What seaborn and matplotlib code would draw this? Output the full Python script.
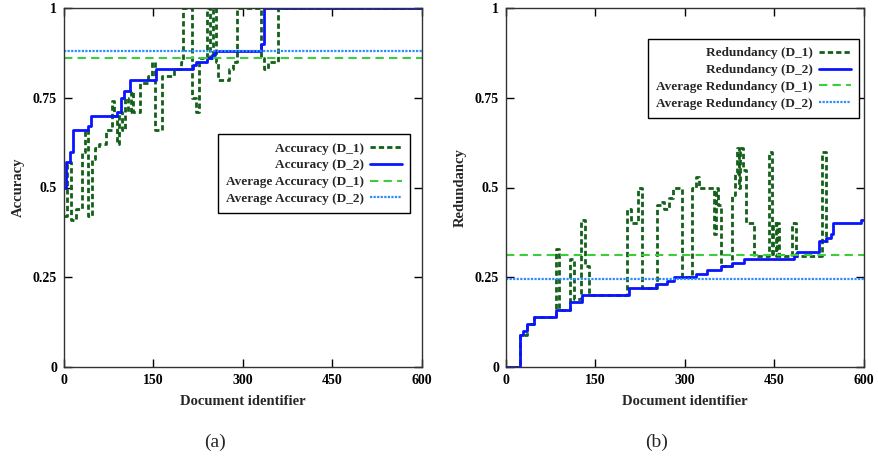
import matplotlib
matplotlib.use("Agg")
import matplotlib.pyplot as plt
import seaborn as sns
import pandas as pd

# ---------------- data ----------------
x_ticks = [0, 150, 300, 450, 600]
y_ticks = [0, 0.25, 0.5, 0.75, 1]
y_tick_labels = ["0", "0.25", "0.5", "0.75", "1"]

acc_d1_doc = [0, 5, 12, 20, 30, 36, 41, 47, 52, 58, 70, 80, 84, 88, 93, 98, 103, 108,
              112, 116, 127, 140, 148, 152, 165, 185, 196, 200, 214, 221, 227, 239, 244,
              250, 254, 258, 276, 284, 290, 330, 336, 342, 359, 600]
acc_d1 = [0.42, 0.57, 0.41, 0.44, 0.60, 0.66, 0.42, 0.58, 0.61, 0.62, 0.66, 0.74, 0.70, 0.62,
          0.71, 0.66, 0.75, 0.71, 0.77, 0.71, 0.79, 0.81, 0.85, 0.66, 0.81, 0.83, 0.85, 1.0,
          0.75, 0.71, 0.86, 1.0, 0.86, 1.0, 0.85, 0.80, 0.83, 0.85, 1.0, 0.86, 0.83, 0.85,
          1.0, 1.0]

acc_d2_doc = [0, 3, 10, 15, 40, 45, 88, 95, 100, 110, 155, 217, 222, 240, 248, 253, 331, 336, 600]
acc_d2 = [0.50, 0.57, 0.60, 0.66, 0.67, 0.70, 0.71, 0.75, 0.77, 0.80, 0.83, 0.84, 0.85, 0.86,
          0.87, 0.88, 0.90, 1.0, 1.0]

acc_avg_d1 = 0.862
acc_avg_d2 = 0.879

red_d1_doc = [0, 24, 35, 47, 83, 89, 108, 114, 126, 133, 139, 203, 209, 217, 222, 228, 253,
              259, 265, 273, 280, 295, 312, 318, 323, 348, 352, 356, 361, 379, 383, 387, 390,
              393, 397, 402, 415, 441, 446, 448, 453, 455, 458, 480, 486, 530, 536, 540]
red_d1 = [0.0, 0.09, 0.12, 0.14, 0.33, 0.16, 0.30, 0.19, 0.41, 0.28, 0.20, 0.44, 0.40, 0.40,
          0.50, 0.22, 0.45, 0.46, 0.44, 0.47, 0.50, 0.25, 0.50, 0.53, 0.50, 0.37, 0.50, 0.45,
          0.28, 0.48, 0.54, 0.61, 0.50, 0.61, 0.55, 0.40, 0.31, 0.60, 0.31, 0.40, 0.31, 0.40,
          0.31, 0.40, 0.31, 0.60, 0.35, 0.35]

red_d2_doc = [0, 24, 28, 35, 47, 83, 108, 128, 206, 251, 270, 281, 318, 337, 360, 379, 399,
              483, 488, 525, 536, 544, 548, 595, 600]
red_d2 = [0.0, 0.089, 0.099, 0.12, 0.14, 0.16, 0.18, 0.20, 0.22, 0.23, 0.24, 0.25, 0.26, 0.27,
          0.28, 0.29, 0.30, 0.31, 0.32, 0.35, 0.36, 0.37, 0.40, 0.41, 0.41]

red_avg_d1 = 0.312
red_avg_d2 = 0.245

# ---------------- style ----------------
sns.set_style("ticks")
plt.rcParams['font.family'] = ['Liberation Serif', 'DejaVu Serif']
plt.rcParams['font.weight'] = 'bold'
plt.rcParams['axes.labelweight'] = 'bold'

C_D1 = "#13601a"
C_D2 = "#0a14ff"
C_AVG1 = "#3ccc3c"
C_AVG2 = "#2a8cff"

fig = plt.figure(figsize=(8.79, 4.63), dpi=100)
ax1 = fig.add_axes([64 / 879, 1 - 367 / 463, 358 / 879, 359 / 463])
ax2 = fig.add_axes([506 / 879, 1 - 367 / 463, 358 / 879, 359 / 463])


def panel(ax, d1x, d1y, d2x, d2y, avg1, avg2, name, legend_loc):
    df1 = pd.DataFrame({"doc": d1x, "val": d1y})
    df2 = pd.DataFrame({"doc": d2x, "val": d2y})
    dfa1 = pd.DataFrame({"doc": [0, 600], "val": [avg1, avg1]})
    dfa2 = pd.DataFrame({"doc": [0, 600], "val": [avg2, avg2]})
    sns.lineplot(data=df1, x="doc", y="val", ax=ax, color=C_D1, lw=2.0,
                 drawstyle="steps-post", estimator=None, sort=False,
                 dashes=False, linestyle=(0, (1.9, 1.1)))
    sns.lineplot(data=df2, x="doc", y="val", ax=ax, color=C_D2, lw=2.0,
                 drawstyle="steps-post", estimator=None, sort=False)
    sns.lineplot(data=dfa1, x="doc", y="val", ax=ax, color=C_AVG1, lw=1.5,
                 estimator=None, sort=False, linestyle=(0, (4.0, 2.5)))
    sns.lineplot(data=dfa2, x="doc", y="val", ax=ax, color=C_AVG2, lw=1.6,
                 estimator=None, sort=False, linestyle=(0, (1.0, 0.6)))
    lines = ax.get_lines()[:4]
    labels = [f"{name} (D_1)", f"{name} (D_2)", f"Average {name} (D_1)", f"Average {name} (D_2)"]
    leg = ax.legend(lines, labels, loc=legend_loc, markerfirst=False, fancybox=False,
                    framealpha=1, edgecolor="black", handlelength=2.4,
                    labelspacing=0.35, borderpad=0.6, handletextpad=0.5,
                    prop={"weight": "bold", "size": 9.5})
    leg.get_frame().set_linewidth(1.0)
    ax.set_xlim(0, 600)
    ax.set_ylim(0, 1)
    ax.set_xticks(x_ticks)
    ax.set_xticklabels([str(t) for t in x_ticks])
    ax.set_yticks(y_ticks)
    ax.set_yticklabels(y_tick_labels)
    ax.tick_params(direction="in", top=True, right=True, length=6, width=1,
                   labelsize=10, colors="black", pad=5)
    for lab in ax.get_xticklabels() + ax.get_yticklabels():
        lab.set_fontweight("bold")
    for s in ax.spines.values():
        s.set_visible(True)
        s.set_color("#333333")
        s.set_linewidth(1.0)
    ax.set_xlabel("Document identifier", fontsize=10.5, fontweight="bold", labelpad=6)
    ax.set_ylabel(name, fontsize=10.5, fontweight="bold", labelpad=6)


panel(ax1, acc_d1_doc, acc_d1, acc_d2_doc, acc_d2, acc_avg_d1, acc_avg_d2, "Accuracy",
      (0.430, 0.429))
panel(ax2, red_d1_doc, red_d1, red_d2_doc, red_d2, red_avg_d1, red_avg_d2, "Redundancy",
      (0.397, 0.694))

fig.text(215 / 879, 1 - 442 / 463, "(a)", ha="center", va="center", fontsize=14,
         fontweight="normal")
fig.text(657 / 879, 1 - 442 / 463, "(b)", ha="center", va="center", fontsize=14,
         fontweight="normal")

fig.savefig("out.png", dpi=100)
